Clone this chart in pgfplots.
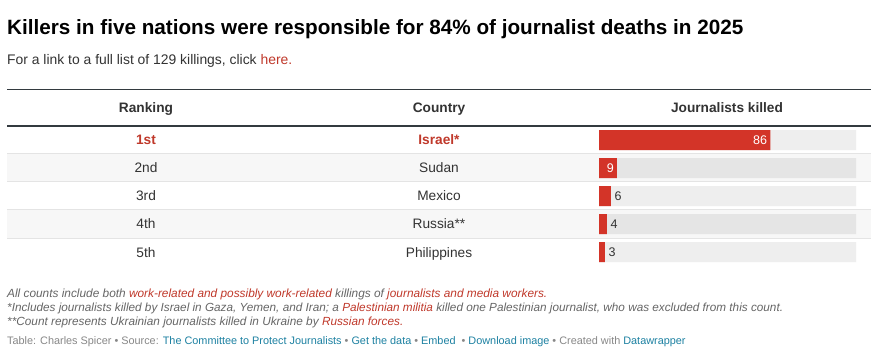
\documentclass[border=0pt]{standalone}
\usepackage{fontspec}
\setmainfont{Liberation Sans}
\usepackage{pgfplots}
\pgfplotsset{compat=1.18}
\definecolor{barred}{HTML}{D33428}
\definecolor{txtred}{HTML}{C0392B}
\definecolor{dark}{HTML}{333333}
\definecolor{rulec}{HTML}{333A3F}
\definecolor{rowgray}{HTML}{F7F7F7}
\definecolor{sepgray}{HTML}{E4E4E4}
\definecolor{trackA}{HTML}{EEEEEE}
\definecolor{trackB}{HTML}{E5E5E5}
\definecolor{notegray}{HTML}{666666}
\definecolor{srcgray}{HTML}{888888}
\definecolor{linkblue}{HTML}{1D81A2}
\newcommand{\rowf}{\fontsize{13.7}{16}\selectfont}
\begin{document}
\begin{tikzpicture}
\begin{scope}[x=1pt,y=-1pt]
\fill[white] (0,0) rectangle (877,355);
\fill[rowgray] (7,154) rectangle (871,182);
\fill[rowgray] (7,210) rectangle (871,238);
\foreach \yy in {154,182,210,238} \draw[sepgray, line width=1pt] (7,\yy) -- (871,\yy);
\draw[rulec, line width=1pt] (7,89.5) -- (871,89.5);
\draw[rulec, line width=2.5pt] (7,126) -- (871,126);
\node[anchor=base west, inner sep=0] at (7,35) {\fontsize{20.7}{24}\selectfont\bfseries Killers in five nations were responsible for 84\% of journalist deaths in 2025};
\node[anchor=base west, inner sep=0, text=dark] at (7,65) {\fontsize{13.9}{16}\selectfont For a link to a full list of 129 killings, click \textcolor{txtred}{here.}};
\node[anchor=base, inner sep=0, text=dark] at (146,113) {\rowf\bfseries Ranking};
\node[anchor=base, inner sep=0, text=dark] at (439,113) {\rowf\bfseries Country};
\node[anchor=base, inner sep=0, text=dark] at (727,113) {\rowf\bfseries Journalists killed};
\node[anchor=base, inner sep=0, text=txtred] at (146,145) {\rowf\bfseries 1st};
\node[anchor=base, inner sep=0, text=txtred] at (439,145) {\rowf\bfseries Israel*};
\node[anchor=base, inner sep=0, text=dark] at (146,173) {\rowf 2nd};
\node[anchor=base, inner sep=0, text=dark] at (439,173) {\rowf Sudan};
\node[anchor=base, inner sep=0, text=dark] at (146,201) {\rowf 3rd};
\node[anchor=base, inner sep=0, text=dark] at (439,201) {\rowf Mexico};
\node[anchor=base, inner sep=0, text=dark] at (146,229) {\rowf 4th};
\node[anchor=base, inner sep=0, text=dark] at (439,229) {\rowf Russia**};
\node[anchor=base, inner sep=0, text=dark] at (146,257) {\rowf 5th};
\node[anchor=base, inner sep=0, text=dark] at (439,257) {\rowf Philippines};
\node[anchor=base west, inner sep=0, text=notegray] at (7,297) {\fontsize{11.85}{14}\selectfont\itshape All counts include both \textcolor{txtred}{work-related and possibly work-related} killings of \textcolor{txtred}{journalists and media workers.}};
\node[anchor=base west, inner sep=0, text=notegray] at (7,311) {\fontsize{11.75}{14}\selectfont\itshape *Includes journalists killed by Israel in Gaza, Yemen, and Iran; a \textcolor{txtred}{Palestinian militia} killed one Palestinian journalist, who was excluded from this count.};
\node[anchor=base west, inner sep=0, text=notegray] at (7,325) {\fontsize{11.8}{14}\selectfont\itshape **Count represents Ukrainian journalists killed in Ukraine by \textcolor{txtred}{Russian forces.}};
\node[anchor=base west, inner sep=0, text=srcgray] at (7,344) {\fontsize{10.87}{13}\selectfont Table: Charles Spicer • Source: \textcolor{linkblue}{The Committee to Protect Journalists} • \textcolor{linkblue}{Get the data} • \textcolor{linkblue}{Embed}\ \ • \textcolor{linkblue}{Download image} • Created with \textcolor{linkblue}{Datawrapper}};
\end{scope}
\begin{axis}[at={(599pt,-126pt)}, anchor=north west, scale only axis, width=257pt, height=140pt,
  xmin=0, xmax=129, ymin=-0.5, ymax=4.5, y dir=reverse, axis lines=none, xbar, bar width=20pt, bar shift=0pt, clip=false,
  /pgf/number format/assume math mode=true]
\addplot[fill=trackA, draw=none] coordinates {(129,0) (129,2) (129,4)};
\addplot[fill=trackB, draw=none] coordinates {(129,1) (129,3)};
\addplot[fill=barred, draw=none, point meta=x, nodes near coords,
  nodes near coords style={anchor=east, text=white, inner sep=0pt, xshift=-3pt, font=\fontsize{12.5}{14}\selectfont}]
  coordinates {(86,0) (9,1)};
\addplot[fill=barred, draw=none, point meta=x, nodes near coords,
  nodes near coords style={anchor=west, text=dark, inner sep=0pt, xshift=3.5pt, font=\fontsize{12.5}{14}\selectfont}]
  coordinates {(6,2) (4,3) (3,4)};
\end{axis}
\end{tikzpicture}
\end{document}
